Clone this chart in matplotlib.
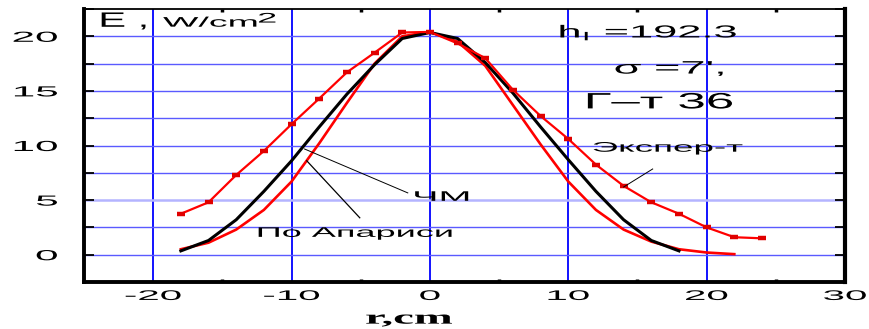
import matplotlib
matplotlib.use('Agg')
import matplotlib.pyplot as plt
from matplotlib.patheffects import AbstractPathEffect
from matplotlib.transforms import Affine2D

plt.rcParams['font.family'] = ['Liberation Sans', 'DejaVu Sans']
plt.rcParams['axes.unicode_minus'] = False

# radius, cm
r_exp = [-18, -16, -14, -12, -10, -8, -6, -4, -2, 0, 2, 4, 6, 8, 10, 12, 14, 16, 18, 20, 22, 24]
r_chm = [-18, -16, -14, -12, -10, -8, -6, -4, -2, 0, 2, 4, 6, 8, 10, 12, 14, 16, 18]
r_apar = [-18, -16, -14, -12, -10, -8, -6, -4, -2, 0, 2, 4, 6, 8, 10, 12, 14, 16, 18, 20, 22]

# E, W/cm2
e_exp = [3.75, 4.8, 7.3, 9.5, 11.95, 14.3, 16.7, 18.5, 20.35, 20.4, 19.35, 18.0,
         15.1, 12.7, 10.6, 8.25, 6.3, 4.8, 3.75, 2.5, 1.6, 1.5]
e_chm = [0.35, 1.3, 3.2, 5.8, 8.6, 11.7, 14.7, 17.4, 19.8, 20.35, 19.8, 17.6,
         14.8, 11.7, 8.7, 5.8, 3.2, 1.3, 0.35]
e_apar = [0.5, 1.1, 2.3, 4.1, 6.7, 10.2, 13.9, 17.5, 20.0, 20.4, 19.5, 17.3,
          13.7, 10.1, 6.7, 4.1, 2.3, 1.2, 0.5, 0.2, 0.05]


class Stretch(AbstractPathEffect):
    """Draw text stretched horizontally, like the wide lettering of the original."""

    def __init__(self, sx, anchor='center'):
        super().__init__()
        self.sx = sx
        self.anchor = anchor

    def draw_path(self, renderer, gc, tpath, affine, rgbFace=None):
        ext = tpath.get_extents()
        if self.anchor == 'left':
            cx = ext.x0
        elif self.anchor == 'right':
            cx = ext.x1
        else:
            cx = (ext.x0 + ext.x1) / 2
        t = Affine2D().translate(-cx, 0).scale(self.sx, 1).translate(cx, 0) + affine
        renderer.draw_path(gc, tpath, t, rgbFace)


fig = plt.figure(figsize=(8.69, 3.29), dpi=100)
ax = fig.add_axes([84 / 869, 1 - 282 / 329, 761 / 869, 273 / 329])

ax.set_xlim(-25, 30)
ax.set_ylim(-2.5, 22.5)

# grid
for x in [-20, -10, 0, 10, 20]:
    ax.axvline(x, color='#0000ff', lw=1.3, zorder=1)
for y in [0, 2.5, 5, 7.5, 10, 12.5, 15, 17.5, 20]:
    if y == 5:
        ax.axhline(y, color='#b4b4ff', lw=1.8, zorder=1)
    else:
        ax.axhline(y, color='#5a5aff', lw=1.0, zorder=1)

# curves
ax.plot(r_apar, e_apar, color='#ff0000', lw=1.9, zorder=3)
ax.plot(r_chm, e_chm, color='black', lw=2.2, zorder=4)
ax.plot(r_exp, e_exp, color='#ff0000', lw=1.6, marker='_', ms=5.5, mew=3.2,
        mec='#e00000', zorder=5)

# ticks
ax.set_xticks([-20, -10, 0, 10, 20, 30])
ax.set_xticks([-15, -5, 5, 15, 25], minor=True)
ax.set_yticks([0, 5, 10, 15, 20])
ax.set_yticks([-2.5, 2.5, 7.5, 12.5, 17.5, 22.5], minor=True)
ax.tick_params(axis='x', which='major', direction='in', length=0, pad=5,
               labelsize=10, top=True)
ax.tick_params(axis='x', which='minor', direction='in', length=2.5, width=2.5,
               top=True)
ax.tick_params(axis='y', which='both', direction='in', length=7, width=1.3,
               pad=19, labelsize=10.5, right=True)

for lab in ax.xaxis.get_majorticklabels():
    lab.set_path_effects([Stretch(2.9)])
for lab in ax.yaxis.get_majorticklabels():
    lab.set_path_effects([Stretch(2.9, 'right')])

ax.spines['left'].set_linewidth(2.8)
ax.spines['bottom'].set_linewidth(2.8)
ax.spines['right'].set_linewidth(3.0)
ax.spines['top'].set_linewidth(1.3)

# axis titles
ax.text(0.021, 0.955, 'E ,', transform=ax.transAxes, fontsize=15, ha='left',
        va='center', path_effects=[Stretch(2.0, 'left')])
ax.text(0.104, 0.950, 'W/cm', transform=ax.transAxes, fontsize=10,
        ha='left', va='center', path_effects=[Stretch(2.7, 'left')])
ax.text(0.229, 0.965, '2', transform=ax.transAxes, fontsize=10,
        ha='left', va='center', path_effects=[Stretch(2.6, 'left')])
fig.text(409 / 869, 0.03, 'r,cm', family='Liberation Serif', weight='bold',
         fontsize=14, ha='center', va='center', path_effects=[Stretch(2.4)])

# parameters
ax.text(15.8, 20.3, 'h$_{\\mathregular{I}}$ =192.3', fontsize=12.5, ha='center',
        va='center', path_effects=[Stretch(2.5)])
ax.text(17.3, 17.0, "σ =7',", fontsize=13, ha='center', va='center',
        path_effects=[Stretch(2.5)])
ax.text(16.6, 13.9, 'Г–т 36', fontsize=16, ha='center', va='center',
        path_effects=[Stretch(2.3)])

# curve labels with leader lines
ax.text(17.2, 9.8, 'Экспер-т', fontsize=10, ha='center', va='center',
        path_effects=[Stretch(2.65)])
ax.text(0.85, 5.3, 'ЧМ', fontsize=10, ha='center', va='center',
        path_effects=[Stretch(2.85)])
ax.text(-5.4, 2.0, 'По Апариси', fontsize=10, ha='center', va='center',
        path_effects=[Stretch(2.6)])
ax.plot([16.1, 14.0], [7.85, 6.2], color='black', lw=0.7, zorder=6)
ax.plot([-1.6, -9.06], [5.66, 9.68], color='black', lw=0.7, zorder=6)
ax.plot([-5.07, -8.9], [3.38, 8.6], color='black', lw=0.9, zorder=6)

fig.savefig('out.png', dpi=100)
